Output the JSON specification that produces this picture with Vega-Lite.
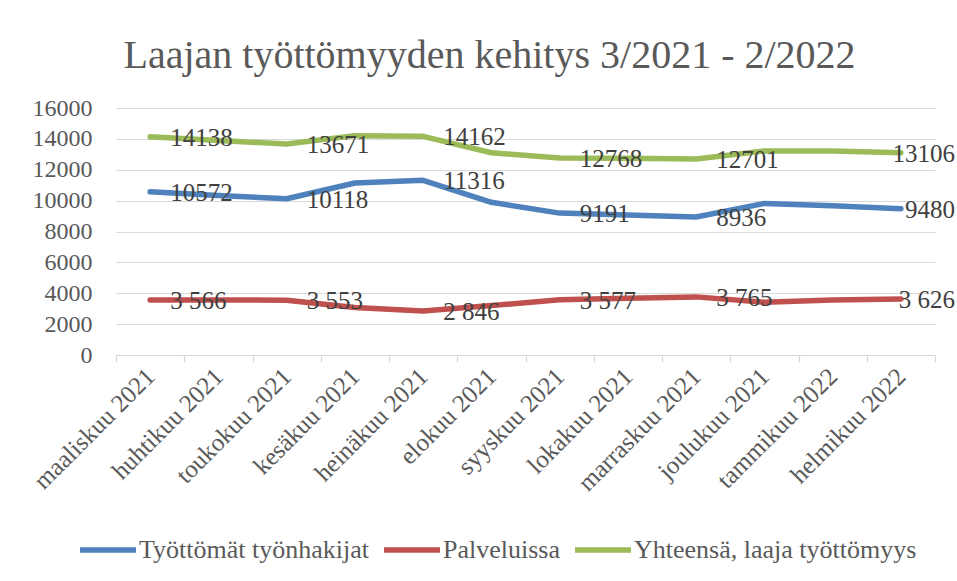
{
  "$schema": "https://vega.github.io/schema/vega-lite/v6.json",
  "width": 819,
  "height": 247,
  "autosize": {"type": "none"},
  "padding": {"left": 116, "top": 108, "right": 22, "bottom": 226},
  "background": "white",
  "title": {
    "text": "Laajan työttömyyden kehitys 3/2021 - 2/2022",
    "font": "Liberation Serif",
    "fontSize": 40,
    "fontWeight": "normal",
    "color": "#595959",
    "anchor": "middle",
    "dx": -36,
    "dy": 42,
    "offset": 30,
    "baseline": "alphabetic"
  },
  "config": {"view": {"stroke": null}, "font": "Liberation Serif"},
  "data": {
    "values": [
      {"kk": "maaliskuu 2021", "sarja": "Työttömät työnhakijat", "arvo": 10572, "lbl": "10572"},
      {"kk": "huhtikuu 2021", "sarja": "Työttömät työnhakijat", "arvo": 10330},
      {"kk": "toukokuu 2021", "sarja": "Työttömät työnhakijat", "arvo": 10118, "lbl": "10118"},
      {"kk": "kesäkuu 2021", "sarja": "Työttömät työnhakijat", "arvo": 11140},
      {"kk": "heinäkuu 2021", "sarja": "Työttömät työnhakijat", "arvo": 11316, "lbl": "11316"},
      {"kk": "elokuu 2021", "sarja": "Työttömät työnhakijat", "arvo": 9890},
      {"kk": "syyskuu 2021", "sarja": "Työttömät työnhakijat", "arvo": 9191, "lbl": "9191"},
      {"kk": "lokakuu 2021", "sarja": "Työttömät työnhakijat", "arvo": 9070},
      {"kk": "marraskuu 2021", "sarja": "Työttömät työnhakijat", "arvo": 8936, "lbl": "8936"},
      {"kk": "joulukuu 2021", "sarja": "Työttömät työnhakijat", "arvo": 9820},
      {"kk": "tammikuu 2022", "sarja": "Työttömät työnhakijat", "arvo": 9670},
      {"kk": "helmikuu 2022", "sarja": "Työttömät työnhakijat", "arvo": 9480, "lbl": "9480"},
      {"kk": "maaliskuu 2021", "sarja": "Palveluissa", "arvo": 3566, "lbl": "3 566"},
      {"kk": "huhtikuu 2021", "sarja": "Palveluissa", "arvo": 3565},
      {"kk": "toukokuu 2021", "sarja": "Palveluissa", "arvo": 3553, "lbl": "3 553"},
      {"kk": "kesäkuu 2021", "sarja": "Palveluissa", "arvo": 3080},
      {"kk": "heinäkuu 2021", "sarja": "Palveluissa", "arvo": 2846, "lbl": "2 846"},
      {"kk": "elokuu 2021", "sarja": "Palveluissa", "arvo": 3200},
      {"kk": "syyskuu 2021", "sarja": "Palveluissa", "arvo": 3577, "lbl": "3 577"},
      {"kk": "lokakuu 2021", "sarja": "Palveluissa", "arvo": 3680},
      {"kk": "marraskuu 2021", "sarja": "Palveluissa", "arvo": 3765, "lbl": "3 765"},
      {"kk": "joulukuu 2021", "sarja": "Palveluissa", "arvo": 3420},
      {"kk": "tammikuu 2022", "sarja": "Palveluissa", "arvo": 3560},
      {"kk": "helmikuu 2022", "sarja": "Palveluissa", "arvo": 3626, "lbl": "3 626"},
      {"kk": "maaliskuu 2021", "sarja": "Yhteensä, laaja työttömyys", "arvo": 14138, "lbl": "14138"},
      {"kk": "huhtikuu 2021", "sarja": "Yhteensä, laaja työttömyys", "arvo": 13895},
      {"kk": "toukokuu 2021", "sarja": "Yhteensä, laaja työttömyys", "arvo": 13671, "lbl": "13671"},
      {"kk": "kesäkuu 2021", "sarja": "Yhteensä, laaja työttömyys", "arvo": 14210},
      {"kk": "heinäkuu 2021", "sarja": "Yhteensä, laaja työttömyys", "arvo": 14162, "lbl": "14162"},
      {"kk": "elokuu 2021", "sarja": "Yhteensä, laaja työttömyys", "arvo": 13100},
      {"kk": "syyskuu 2021", "sarja": "Yhteensä, laaja työttömyys", "arvo": 12768, "lbl": "12768"},
      {"kk": "lokakuu 2021", "sarja": "Yhteensä, laaja työttömyys", "arvo": 12740},
      {"kk": "marraskuu 2021", "sarja": "Yhteensä, laaja työttömyys", "arvo": 12701, "lbl": "12701"},
      {"kk": "joulukuu 2021", "sarja": "Yhteensä, laaja työttömyys", "arvo": 13220},
      {"kk": "tammikuu 2022", "sarja": "Yhteensä, laaja työttömyys", "arvo": 13220},
      {"kk": "helmikuu 2022", "sarja": "Yhteensä, laaja työttömyys", "arvo": 13106, "lbl": "13106"}
    ]
  },
  "encoding": {
    "x": {
      "field": "kk",
      "type": "nominal",
      "sort": ["maaliskuu 2021", "huhtikuu 2021", "toukokuu 2021", "kesäkuu 2021", "heinäkuu 2021", "elokuu 2021", "syyskuu 2021", "lokakuu 2021", "marraskuu 2021", "joulukuu 2021", "tammikuu 2022", "helmikuu 2022"],
      "bandPosition": 0.5,
      "scale": {"type": "band", "paddingInner": 0, "paddingOuter": 0},
      "axis": {
        "title": null,
        "labelAngle": -45,
        "labelAlign": "right",
        "labelBaseline": "middle",
        "labelFont": "Liberation Serif",
        "labelFontSize": 25,
        "labelColor": "#595959",
        "labelPadding": 10,
        "labelLimit": 300,
        "tickBand": "extent",
        "tickSize": 7,
        "tickColor": "#d9d9d9",
        "tickWidth": 1.2,
        "domainColor": "#d9d9d9",
        "domainWidth": 1.2,
        "grid": false
      }
    },
    "y": {
      "field": "arvo",
      "type": "quantitative",
      "scale": {"domain": [0, 16000], "nice": false, "zero": true},
      "axis": {
        "title": null,
        "values": [0, 2000, 4000, 6000, 8000, 10000, 12000, 14000, 16000],
        "format": "d",
        "labelFont": "Liberation Serif",
        "labelFontSize": 24,
        "labelColor": "#595959",
        "ticks": false,
        "tickSize": 0,
        "domain": false,
        "labelPadding": 24,
        "grid": true,
        "gridColor": "#d9d9d9",
        "gridWidth": 1.2
      }
    },
    "color": {
      "field": "sarja",
      "type": "nominal",
      "scale": {
        "domain": ["Työttömät työnhakijat", "Palveluissa", "Yhteensä, laaja työttömyys"],
        "range": ["#4F81BD", "#C0504D", "#9BBB59"]
      },
      "legend": {
        "title": null,
        "orient": "none",
        "direction": "horizontal",
        "legendX": -39,
        "legendY": 411,
        "symbolType": "stroke",
        "symbolSize": 3136,
        "symbolStrokeWidth": 5.5,
        "labelFont": "Liberation Serif",
        "labelFontSize": 26,
        "labelColor": "#595959",
        "labelLimit": 400,
        "labelOffset": 0,
        "columnPadding": 4
      }
    }
  },
  "layer": [
    {
      "mark": {"type": "line", "strokeWidth": 5.5, "strokeCap": "round", "strokeJoin": "round"}
    },
    {
      "transform": [{"filter": "isValid(datum.lbl) && datum.kk != 'helmikuu 2022'"}],
      "mark": {"type": "text", "align": "left", "baseline": "middle", "dx": 20, "dy": 1, "font": "Liberation Serif", "fontSize": 25, "color": "#404040"},
      "encoding": {"text": {"field": "lbl"}, "color": {"value": "#404040"}}
    },
    {
      "transform": [{"filter": "isValid(datum.lbl) && datum.kk == 'helmikuu 2022'"}],
      "mark": {"type": "text", "align": "right", "baseline": "middle", "dx": 54, "dy": 1, "font": "Liberation Serif", "fontSize": 25, "color": "#404040"},
      "encoding": {"text": {"field": "lbl"}, "color": {"value": "#404040"}}
    }
  ]
}
